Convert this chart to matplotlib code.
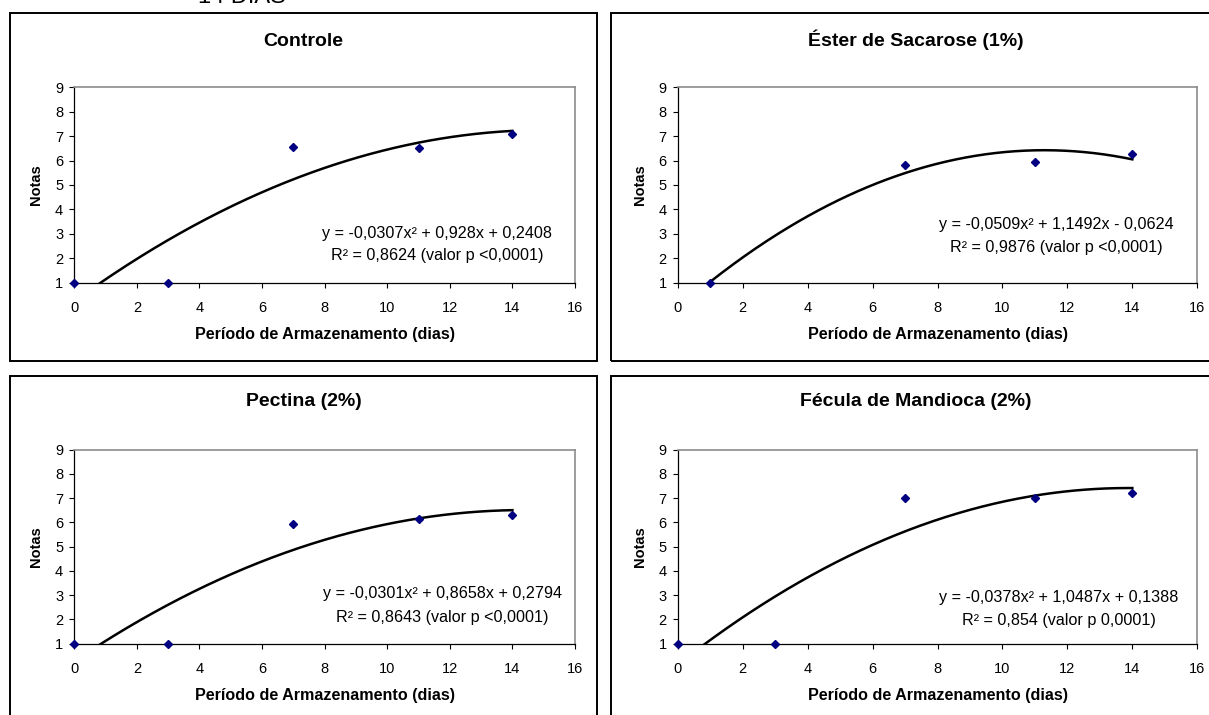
import numpy as np
import matplotlib
matplotlib.use("Agg")
import matplotlib.pyplot as plt
from matplotlib.patches import Rectangle

plt.rcParams["font.family"] = ["Liberation Sans", "DejaVu Sans"]

# --- data -------------------------------------------------------------
titles = ["Controle", "Éster de Sacarose (1%)", "Pectina (2%)", "Fécula de Mandioca (2%)"]

days_controle = [0, 3, 7, 11, 14]
notas_controle = [1.0, 1.0, 6.55, 6.5, 7.1]

days_ester = [1, 7, 11, 14]
notas_ester = [1.0, 5.8, 5.95, 6.25]

days_pectina = [0, 3, 7, 11, 14]
notas_pectina = [1.0, 1.0, 5.95, 6.15, 6.3]

days_fecula = [0, 3, 7, 11, 14]
notas_fecula = [1.0, 1.0, 7.0, 7.0, 7.2]

# quadratic trend coefficients (a, b, c) for y = a*x^2 + b*x + c
coef_controle = (-0.0307, 0.928, 0.2408)
coef_ester = (-0.0509, 1.1492, -0.0624)
coef_pectina = (-0.0301, 0.8658, 0.2794)
coef_fecula = (-0.0378, 1.0487, 0.1388)

eq_lines = [
    "y = -0,0307x² + 0,928x + 0,2408",
    "y = -0,0509x² + 1,1492x - 0,0624",
    "y = -0,0301x² + 0,8658x + 0,2794",
    "y = -0,0378x² + 1,0487x + 0,1388",
]
r2_lines = [
    "R² = 0,8624 (valor p <0,0001)",
    "R² = 0,9876 (valor p <0,0001)",
    "R² = 0,8643 (valor p <0,0001)",
    "R² = 0,854 (valor p 0,0001)",
]

x_ticks = list(range(0, 17, 2))
y_ticks = list(range(1, 10))
x_label = "Período de Armazenamento (dias)"
y_label = "Notas"
header = "14 DIAS"

days = [days_controle, days_ester, days_pectina, days_fecula]
notas = [notas_controle, notas_ester, notas_pectina, notas_fecula]
coefs = [coef_controle, coef_ester, coef_pectina, coef_fecula]

# --- layout -----------------------------------------------------------
W, H = 1209, 715
fig = plt.figure(figsize=(W / 100, H / 100), dpi=100)


def fx(px):
    return px / W


def fy(py):
    return 1 - py / H


# panel frames (pixel boxes: left, top, right, bottom)
frames = [(10, 13.3, 597, 360.7), (611, 13.3, 1220, 360.7),
          (10, 376, 597, 730), (611, 376, 1220, 730)]
# plot areas (left, top, right, bottom) in pixels
areas = [(74.3, 87.3, 575, 282.7), (677.7, 87.3, 1197.3, 282.7),
         (74.3, 449.5, 575, 643.7), (677.7, 449.5, 1197.3, 643.7)]
title_base = [46, 46, 406.5, 406.5]
eq_pos = [(11.6, 3.02, 2.1), (11.67, 3.4, 2.45), (11.77, 3.05, 2.09), (11.74, 2.9, 1.94)]

for (l, t, r, b) in frames:
    fig.patches.append(Rectangle((fx(l), fy(b)), fx(r) - fx(l), fy(t) - fy(b),
                                 transform=fig.transFigure, fill=False,
                                 edgecolor="black", linewidth=1.4))

fig.text(fx(242), fy(2.7), header, ha="center", va="baseline", fontsize=17)

for i in range(4):
    l, t, r, b = areas[i]
    ax = fig.add_axes([fx(l), fy(b), fx(r) - fx(l), fy(t) - fy(b)])
    ax.set_xlim(0, 16)
    ax.set_ylim(1, 9)

    a, bb, c = coefs[i]
    xs = np.linspace(min(days[i]), max(days[i]), 300)
    ax.plot(xs, a * xs ** 2 + bb * xs + c, color="black", linewidth=1.8, zorder=2)
    ax.plot(days[i], notas[i], linestyle="none", marker="D", markersize=4.3,
            color="#000080", clip_on=False, zorder=3)

    ax.set_xticks(x_ticks)
    ax.set_yticks(y_ticks)
    ax.tick_params(axis="both", direction="out", length=3.5, width=0.8,
                   labelsize=10.5, colors="black")
    ax.tick_params(axis="x", pad=10)
    ax.tick_params(axis="y", pad=4.5)
    for side in ("left", "bottom"):
        ax.spines[side].set_color("black")
        ax.spines[side].set_linewidth(0.9)
    for side in ("top", "right"):
        ax.spines[side].set_color("#8c8c8c")
        ax.spines[side].set_linewidth(1.2)

    ax.annotate(x_label, xy=(0.5, 0), xycoords="axes fraction",
                xytext=(0, -37.2), textcoords="offset points",
                ha="center", va="center", fontsize=11.6, fontweight="bold")
    ax.annotate(y_label, xy=(0, 0.5), xycoords="axes fraction",
                xytext=(-27.3, 0), textcoords="offset points",
                ha="center", va="center", rotation=90,
                fontsize=10.5, fontweight="bold")

    ex, ey1, ey2 = eq_pos[i]
    ax.text(ex, ey1, eq_lines[i], ha="center", va="center", fontsize=11.6)
    ax.text(ex, ey2, r2_lines[i], ha="center", va="center", fontsize=11.6)

    fl, ft, fr, fb = frames[i]
    fig.text(fx((fl + fr) / 2), fy(title_base[i]), titles[i], ha="center",
             va="baseline", fontsize=14, fontweight="bold")

fig.savefig("out.png", dpi=100)
